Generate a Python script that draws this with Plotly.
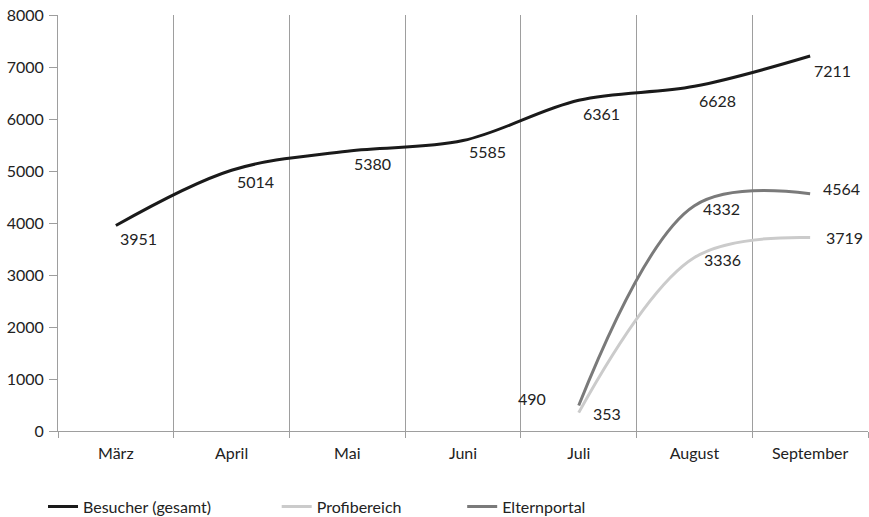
import plotly.graph_objects as go

months = ["März", "April", "Mai", "Juni", "Juli", "August", "September"]
besucher = [3951, 5014, 5380, 5585, 6361, 6628, 7211]
profi = [None, None, None, None, 353, 3336, 3719]
eltern = [None, None, None, None, 490, 4332, 4564]
y_ticks = [0, 1000, 2000, 3000, 4000, 5000, 6000, 7000, 8000]

FONT = "Lato"
TXT = "#222222"

fig = go.Figure()
series = [
    ("Besucher (gesamt)", besucher, "#1a1a1a", "legend"),
    ("Profibereich", profi, "#cbcbcb", "legend2"),
    ("Elternportal", eltern, "#7a7a7a", "legend3"),
]
for name, vals, col, leg in series:
    fig.add_trace(go.Scatter(
        x=months, y=vals, name=name, mode="lines",
        line=dict(color=col, width=3, shape="spline", smoothing=1),
        legend=leg, hoverinfo="skip",
    ))

# label offsets in px (dx right, dy down)
off_b = [(23, 13), (24, 11), (25, 12), (24, 11), (23, 13), (23, 14), (22, 14)]
off_p = {4: (28, 1), 5: (28, 2), 6: (34, 0)}
off_e = {4: (-47, -7), 5: (27, 3), 6: (31, -5)}

ann = []
for i, v in enumerate(besucher):
    dx, dy = off_b[i]
    ann.append(dict(x=months[i], y=v, text=str(v), showarrow=False,
                    xshift=dx, yshift=-dy, font=dict(family=FONT, size=16, color=TXT)))
for vals, offs in ((profi, off_p), (eltern, off_e)):
    for i, v in enumerate(vals):
        if v is None:
            continue
        dx, dy = offs[i]
        ann.append(dict(x=months[i], y=v, text=str(v), showarrow=False,
                        xshift=dx, yshift=-dy, font=dict(family=FONT, size=16, color=TXT)))

legend_common = dict(orientation="h", yref="paper", y=-0.182, yanchor="middle",
                     xanchor="left", bgcolor="rgba(0,0,0,0)", borderwidth=0,
                     font=dict(family=FONT, size=16, color=TXT))

fig.update_layout(
    width=869, height=517,
    margin=dict(l=58, r=1, t=15, b=86, autoexpand=False),
    plot_bgcolor="white", paper_bgcolor="white",
    font=dict(family=FONT, size=16, color=TXT),
    showlegend=True,
    legend=dict(x=-0.0185, **legend_common),
    legend2=dict(x=0.270, **legend_common),
    legend3=dict(x=0.499, **legend_common),
    annotations=ann,
    xaxis=dict(
        type="category", categoryarray=months, range=[-0.5, 6.5],
        tickson="boundaries", showgrid=True, gridcolor="#9e9e9e", gridwidth=1,
        ticks="outside", ticklen=6, tickcolor="#9e9e9e",
        showline=True, linecolor="#9e9e9e", linewidth=1,
        tickfont=dict(family=FONT, size=16, color=TXT), zeroline=False,
        ticklabelstandoff=8, fixedrange=True,
    ),
    yaxis=dict(
        range=[0, 8000], tickvals=y_ticks, showgrid=False, zeroline=False,
        ticks="outside", ticklen=8, tickcolor="#9e9e9e",
        showline=True, linecolor="#9e9e9e", linewidth=1,
        tickfont=dict(family=FONT, size=16, color=TXT), ticklabelstandoff=2,
        fixedrange=True,
    ),
)

fig.write_html("out.html")
